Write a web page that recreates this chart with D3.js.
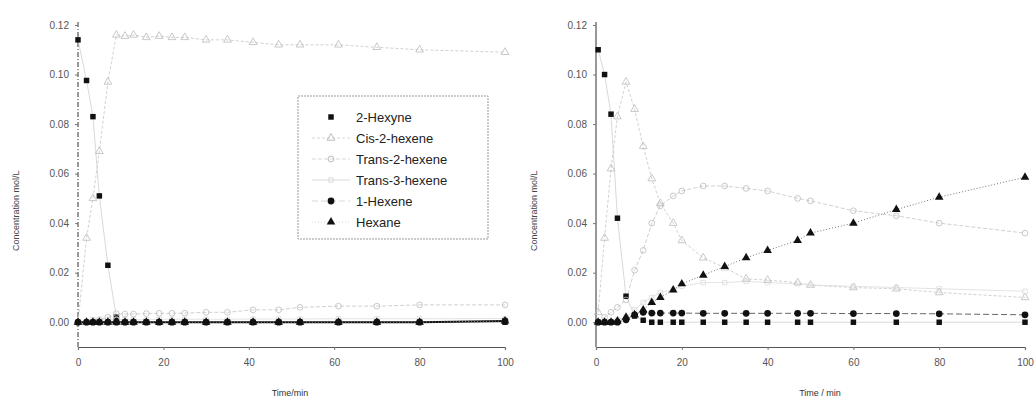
<!DOCTYPE html>
<html>
<head>
<meta charset="utf-8">
<script src="https://cdn.jsdelivr.net/npm/d3@7"></script>
<style>
  body { margin: 0; background: #fff; }
  svg { font-family: Arial, "Liberation Sans", sans-serif; }
</style>
</head>
<body>
<div id="chart"></div>
<script>
// ---- data ----
const seriesNames = ["2-Hexyne", "Cis-2-hexene", "Trans-2-hexene", "Trans-3-hexene", "1-Hexene", "Hexane"]
const yTicks = [0.00, 0.02, 0.04, 0.06, 0.08, 0.10, 0.12]
const xTicks = [0, 20, 40, 60, 80, 100]

// left panel
const timeA = [0, 2, 3.5, 5, 7, 9, 11, 13, 16, 19, 22, 25, 30, 35, 41, 47, 52, 61, 70, 80, 100]
const hexyneA = [0.114, 0.0976, 0.083, 0.051, 0.023, 0.002, 0, 0, 0, 0, 0, 0, 0, 0, 0, 0, 0, 0, 0, 0, 0]
const cis2A = [0, 0.034, 0.05, 0.069, 0.097, 0.116, 0.1155, 0.116, 0.115, 0.1155, 0.115, 0.115, 0.114, 0.114, 0.113, 0.112, 0.112, 0.112, 0.111, 0.110, 0.109]
const trans2A = [0, 0, 0, 0.001, 0.002, 0.0035, 0.0033, 0.0033, 0.0035, 0.0036, 0.0036, 0.0037, 0.004, 0.004, 0.005, 0.005, 0.006, 0.0065, 0.0065, 0.007, 0.007]
const trans3A = [0, 0, 0.001, 0.001, 0.001, 0.001, 0.001, 0.001, 0.001, 0.0012, 0.0012, 0.0012, 0.0012, 0.0012, 0.0013, 0.0013, 0.0013, 0.0014, 0.0014, 0.0014, 0.0015]
const hexene1A = [0, 0, 0, 0, 0, 0, 0, 0, 0, 0, 0, 0, 0, 0, 0, 0, 0, 0, 0, 0, 0.0005]
const hexaneA = [0, 0, 0, 0, 0, 0, 0, 0, 0, 0, 0, 0, 0, 0, 0, 0, 0, 0, 0, 0, 0.0005]

// right panel
const timeB = [0.5, 2, 3.5, 5, 7, 9, 11, 13, 15, 18, 20, 25, 30, 35, 40, 47, 50, 60, 70, 80, 100]
const hexyneB = [0.110, 0.100, 0.084, 0.042, 0.0105, 0.0025, 0.0008, 0, 0, 0, 0, 0, 0, 0, 0, 0, 0, 0, 0, 0, 0]
const cis2B = [0.004, 0.034, 0.062, 0.083, 0.097, 0.086, 0.071, 0.058, 0.048, 0.040, 0.033, 0.026, 0.022, 0.0175, 0.017, 0.016, 0.015, 0.014, 0.0135, 0.012, 0.010]
const trans2B = [0, 0.002, 0.004, 0.006, 0.009, 0.021, 0.029, 0.040, 0.047, 0.051, 0.053, 0.055, 0.055, 0.054, 0.053, 0.050, 0.049, 0.045, 0.043, 0.040, 0.036]
const trans3B = [0, 0, 0, 0.001, 0.002, 0.005, 0.008, 0.010, 0.012, 0.013, 0.0145, 0.016, 0.016, 0.0165, 0.016, 0.0155, 0.015, 0.0145, 0.014, 0.0135, 0.0125]
const hexene1B = [0, 0, 0, 0, 0.001, 0.003, 0.004, 0.0037, 0.0037, 0.0037, 0.0037, 0.0036, 0.0036, 0.0036, 0.0036, 0.0036, 0.0036, 0.0035, 0.0035, 0.0034, 0.003]
const hexaneB = [0, 0, 0, 0.0005, 0.002, 0.003, 0.005, 0.008, 0.010, 0.013, 0.0155, 0.019, 0.0225, 0.026, 0.029, 0.033, 0.036, 0.040, 0.0455, 0.0505, 0.0585]

// ---- styles per series ----
const styles = [
  { symbol: d3.symbolSquare, size: 30, fill: "#111", stroke: "none", line: "#c8c8c8", dash: null, lw: 0.7 },
  { symbol: d3.symbolTriangle, size: 26, fill: "none", stroke: "#bbb", line: "#c4c4c4", dash: "3,2", lw: 0.8 },
  { symbol: d3.symbolCircle, size: 26, fill: "none", stroke: "#bbb", line: "#c4c4c4", dash: "4,2", lw: 0.8 },
  { symbol: d3.symbolSquare, size: 20, fill: "none", stroke: "#dcdcdc", line: "#dcdcdc", dash: null, lw: 0.8 },
  { symbol: d3.symbolCircle, size: 36, fill: "#111", stroke: "none", line: "#555", dash: "6,3", lw: 0.9 },
  { symbol: d3.symbolTriangle, size: 32, fill: "#111", stroke: "none", line: "#777", dash: "1,2", lw: 1 }
]

const svg = d3.select("#chart").append("svg")
  .attr("width", 1035)
  .attr("height", 401)

function drawPanel(opts) {
  const x = d3.scaleLinear().domain([0, 100]).range([opts.left, opts.right])
  const y = d3.scaleLinear().domain([-0.01, 0.12]).range([347, 25])

  const g = svg.append("g")

  // axes
  const yAxis = g.append("g")
    .attr("transform", `translate(${opts.left},0)`)
    .call(d3.axisLeft(y).tickValues(yTicks).tickFormat(d3.format(".2f")).tickSize(3).tickPadding(6))
  yAxis.select(".domain").attr("stroke", "#333").attr("stroke-dasharray", opts.dashedAxis ? "5,2,1,2" : null)
    .attr("d", `M0,${y(0.12) - 3}V${y(-0.01)}`)

  const xAxis = g.append("g")
    .attr("transform", `translate(0,${y(-0.01)})`)
    .call(d3.axisBottom(x).tickValues(xTicks).tickSize(3).tickPadding(9))
  xAxis.select(".domain").attr("stroke", "#555").attr("stroke-width", 1.2)

  g.selectAll(".tick text").attr("fill", "#555").style("font-size", "10px")
  g.selectAll(".tick line").attr("stroke", "#777")

  // axis titles
  g.append("text")
    .attr("transform", `translate(${opts.left - 59},${y(0.045)}) rotate(-90)`)
    .attr("text-anchor", "middle")
    .attr("fill", "#444")
    .style("font-size", "9px")
    .text("Concentration mol/L")

  g.append("text")
    .attr("x", opts.xTitleX)
    .attr("y", 396)
    .attr("text-anchor", "middle")
    .attr("fill", "#333")
    .style("font-size", "9px")
    .text(opts.xTitle)

  // series
  opts.series.forEach((vals, i) => {
    const st = styles[i]
    const pts = opts.time.map((t, j) => ({ t: t, c: vals[j] }))
    const line = d3.line().x(d => x(d.t)).y(d => y(d.c))
    g.append("path")
      .datum(pts)
      .attr("fill", "none")
      .attr("stroke", i == 4 && opts.boldBase ? "#111" : st.line)
      .attr("stroke-width", i == 4 && opts.boldBase ? 2.2 : st.lw)
      .attr("stroke-dasharray", i == 4 && opts.boldBase ? null : st.dash)
      .attr("d", line)
  })
  opts.series.forEach((vals, i) => {
    const st = styles[i]
    const pts = opts.time.map((t, j) => ({ t: t, c: vals[j] }))
    g.selectAll(null)
      .data(pts)
      .enter()
      .append("path")
        .attr("transform", d => `translate(${x(d.t)},${y(d.c)})`)
        .attr("d", d3.symbol().type(st.symbol).size(st.size))
        .attr("fill", st.fill)
        .attr("stroke", st.stroke)
        .attr("stroke-width", 0.8)
  })
}

drawPanel({
  left: 78, right: 505, dashedAxis: true, boldBase: true,
  time: timeA,
  series: [hexyneA, cis2A, trans2A, trans3A, hexene1A, hexaneA],
  xTitle: "Time/min", xTitleX: 290
})

drawPanel({
  left: 596, right: 1025, dashedAxis: false, boldBase: false,
  time: timeB,
  series: [hexyneB, cis2B, trans2B, trans3B, hexene1B, hexaneB],
  xTitle: "Time / min", xTitleX: 820
})

// legend
const legend = svg.append("g")
legend.append("rect")
  .attr("x", 298).attr("y", 96)
  .attr("width", 190).attr("height", 143)
  .attr("fill", "#fff")
  .attr("stroke", "#999")
  .attr("stroke-dasharray", "2,1")

seriesNames.forEach((name, i) => {
  const st = styles[i]
  const ly = 117 + i * 21
  legend.append("line")
    .attr("x1", 312).attr("x2", 350)
    .attr("y1", ly).attr("y2", ly)
    .attr("stroke", i == 0 ? "none" : "#d8d8d8")
    .attr("stroke-dasharray", st.dash)
  legend.append("path")
    .attr("transform", `translate(331,${ly})`)
    .attr("d", d3.symbol().type(st.symbol).size(st.size))
    .attr("fill", st.fill)
    .attr("stroke", st.stroke)
  legend.append("text")
    .attr("x", 356).attr("y", ly + 4.5)
    .attr("fill", "#222")
    .style("font-size", "13px")
    .text(name)
})
</script>
</body>
</html>
